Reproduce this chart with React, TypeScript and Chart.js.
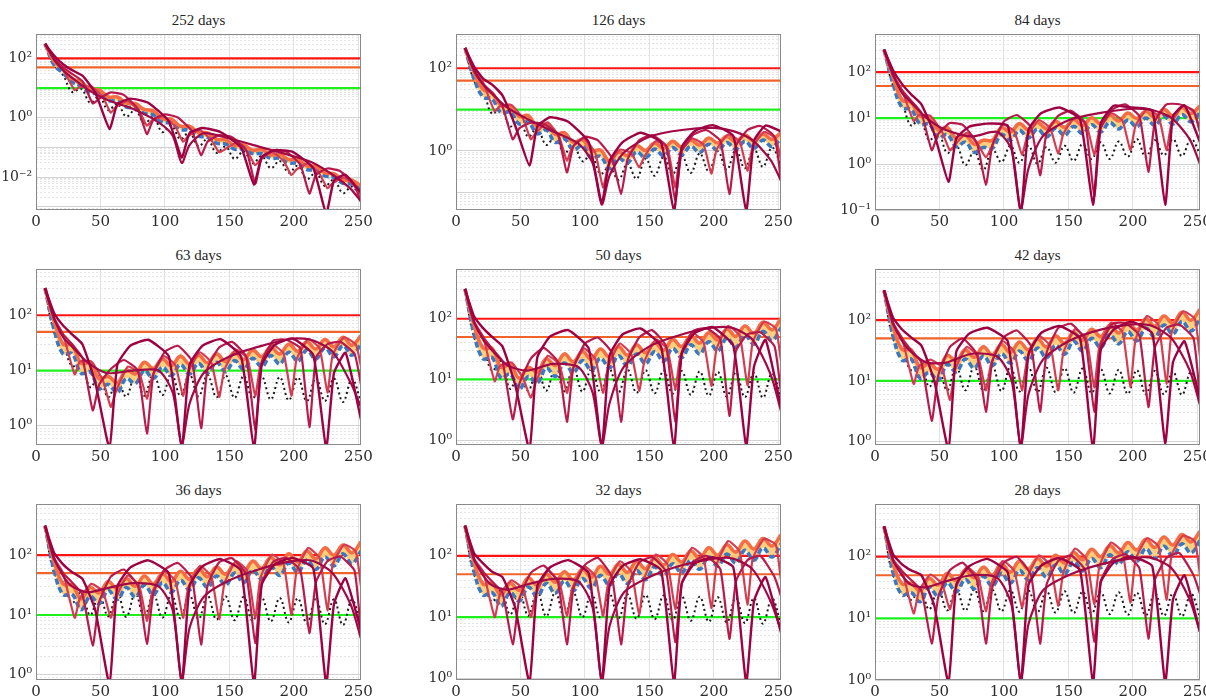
import React, { useEffect, useRef } from "react";
import { Chart, registerables } from "chart.js";

Chart.register(...registerables);

// ---------------- labels & axes ----------------
const TITLES = ["252 days", "126 days", "84 days", "63 days", "50 days", "42 days", "36 days", "32 days", "28 days"];
const X_MIN = 0;
const X_MAX = 252;
const X_TICKS = [0, 50, 100, 150, 200, 250];
const Y_MIN = [0.00078, 0.037, 0.1, 0.45, 0.83, 0.88, 0.82, 0.94, 1.0];
const Y_MAX = [640, 660, 665, 675, 650, 685, 705, 690, 705];
const Y_LABEL_STEP = [2, 2, 1, 1, 1, 1, 1, 1, 1];
const THRESHOLDS = [100, 50, 10];

// ---------------- shared day grids ----------------
const XB = [7, 14, 21, 28, 35, 42, 49, 56, 63, 70, 77, 84, 91, 98, 105, 112, 119, 126, 133, 140, 147, 154, 161, 168, 175, 182, 189, 196, 203, 210, 217, 224, 231, 238, 245, 252];
const XC1 = [7, 14, 21, 28, 36, 46, 57, 63, 73, 87, 103, 113, 119, 129, 143, 159, 169, 175, 185, 199, 215, 225, 231, 240, 252];
const XC2 = [7, 14, 21, 28, 36, 44, 49, 58, 68, 79, 86, 91, 100, 110, 121, 128, 133, 142, 152, 163, 170, 175, 184, 194, 205, 212, 217, 226, 236, 247, 252];
const XC3 = [7, 14, 21, 30, 34, 43, 52, 58, 62, 71, 80, 86, 90, 99, 108, 114, 118, 127, 136, 142, 146, 155, 164, 170, 174, 183, 192, 198, 202, 211, 220, 226, 230, 239, 248, 252];
const XC4 = [7, 14, 21, 28, 40, 55, 75, 95, 106, 113, 119, 130, 150, 175, 200, 215, 230, 244, 252];

// ---------------- 252 days ----------------
const P252_UP = [310, 80, 45, 21, 16, 9.1, 8.7, 5, 5, 3.1, 3.0, 1.9, 1.7, 0.93, 0.89, 0.52, 0.52, 0.32, 0.31, 0.19, 0.18, 0.115, 0.12, 0.081, 0.085, 0.056, 0.059, 0.039, 0.04, 0.024, 0.023, 0.014, 0.013, 0.0081, 0.0079, 0.005];
const P252_LO = [310, 60, 32, 16, 11.5, 6.9, 6.3, 3.8, 3.6, 2.3, 2.1, 1.4, 1.26, 0.71, 0.65, 0.4, 0.38, 0.24, 0.22, 0.14, 0.13, 0.087, 0.089, 0.062, 0.062, 0.043, 0.043, 0.03, 0.029, 0.018, 0.017, 0.011, 0.0098, 0.0062, 0.0058, 0.0038];
const P252_DOT = [310, 63, 27, 7.4, 9.5, 3.2, 5.2, 1.8, 3.0, 1.1, 1.8, 0.66, 1.05, 0.33, 0.54, 0.19, 0.32, 0.11, 0.19, 0.066, 0.107, 0.041, 0.074, 0.029, 0.051, 0.02, 0.035, 0.014, 0.024, 0.0085, 0.014, 0.005, 0.0081, 0.0029, 0.0048, 0.0018];
const P252_C1 = [310, 125, 63, 40, 26, 7, 0.42, 2.8, 4.4, 3.2, 0.76, 0.046, 0.3, 0.45, 0.33, 0.1, 0.0056, 0.048, 0.081, 0.071, 0.02, 0.0006, 0.0076, 0.012, 0.003];
const P252_C2 = [310, 100, 50, 30, 17, 3, 4.4, 7.1, 5.9, 1.95, 0.28, 0.87, 1.29, 1.02, 0.35, 0.055, 0.155, 0.26, 0.22, 0.083, 0.006, 0.043, 0.078, 0.072, 0.026, 0.0028, 0.0117, 0.0195, 0.0158, 0.0052, 0.0015];
const P252_C3 = [310, 95, 40, 8.5, 10.7, 11.2, 4.8, 1.48, 2.3, 3.7, 1.7, 0.54, 0.81, 1.12, 0.5, 0.155, 0.24, 0.38, 0.174, 0.069, 0.083, 0.141, 0.072, 0.025, 0.039, 0.069, 0.035, 0.0117, 0.018, 0.029, 0.0126, 0.0042, 0.0063, 0.0098, 0.0045, 0.0025];
const P252_C4 = [310, 90, 40, 22, 9, 4, 2, 0.7, 0.25, 0.03, 0.12, 0.3, 0.2, 0.1, 0.05, 0.03, 0.012, 0.004, 0.0015];

// ---------------- 126 days ----------------
const P126_UP = [310, 79, 31, 25, 12.6, 12.3, 6.8, 7.1, 3.9, 4.5, 2.5, 2.75, 1.6, 1.86, 1.0, 1.05, 0.56, 0.93, 0.78, 1.35, 1.02, 1.55, 1.15, 1.7, 1.23, 1.82, 1.38, 2.04, 1.55, 2.24, 1.66, 2.4, 1.74, 2.57, 1.9, 2.8];
const P126_LO = [310, 56, 20, 18, 8.3, 8.7, 4.5, 5, 2.6, 3.2, 1.6, 1.95, 1.07, 1.32, 0.66, 0.74, 0.37, 0.66, 0.51, 0.95, 0.68, 1.1, 0.76, 1.2, 0.81, 1.29, 0.91, 1.45, 1.02, 1.58, 1.1, 1.7, 1.15, 1.82, 1.26, 2.0];
const P126_DOT = [310, 50, 28, 7.9, 11, 3.9, 6, 2.2, 3.5, 1.4, 2.2, 0.87, 1.45, 0.56, 0.8, 0.28, 0.4, 0.2, 0.49, 0.21, 0.65, 0.25, 0.72, 0.27, 0.78, 0.29, 0.87, 0.32, 0.98, 0.35, 1.05, 0.38, 1.1, 0.41, 1.2, 0.45];
const P126_C1 = [310, 110, 56, 40, 22, 4, 0.44, 3.9, 6.5, 5.1, 1.6, 0.054, 0.56, 1.6, 2.75, 1.6, 0.035, 1.23, 3.0, 4.2, 2.3, 0.035, 1.74, 4.1, 3.0];
const P126_C2 = [310, 85, 42, 26, 12, 1.9, 3.5, 4.8, 4.5, 2.5, 0.3, 1.3, 2.2, 1.8, 0.66, 0.09, 0.62, 1.8, 2.4, 1.3, 0.063, 0.98, 2.45, 3.2, 1.74, 0.09, 1.3, 3.2, 4.0, 2.2, 0.19];
const P126_C3 = [310, 90, 45, 9, 12, 13, 6, 1.9, 2.75, 4.9, 2.2, 0.58, 1.2, 2.0, 0.89, 0.13, 0.42, 1.07, 0.87, 0.4, 0.72, 1.74, 1.17, 0.13, 0.87, 2.0, 1.4, 0.28, 1.07, 2.5, 1.66, 0.33, 1.23, 2.9, 1.95, 0.6];
const P126_C4 = [310, 90, 40, 24, 11, 6, 3, 1.5, 0.5, 0.05, 0.25, 0.9, 2.2, 3.2, 3.6, 3.0, 1.8, 0.6, 0.19];

// ---------------- 84 days ----------------
const P84_UP = [310, 79, 25, 22, 11, 10.5, 5.6, 6.2, 3.6, 4.3, 2.7, 3.3, 3.3, 6.2, 5.0, 7.6, 5.6, 8.1, 5.9, 8.5, 6.3, 9.3, 6.9, 10.2, 7.6, 11.5, 8.7, 12.9, 9.8, 14.1, 10.5, 15.5, 11.2, 17, 12.6, 18.6];
const P84_LO = [310, 56, 17, 15.5, 7.4, 7.4, 3.7, 4.4, 2.4, 3.0, 1.8, 2.3, 2.2, 4.4, 3.3, 5.4, 3.7, 5.8, 3.9, 6.0, 4.2, 6.6, 4.6, 7.2, 5.0, 8.1, 5.8, 9.1, 6.5, 10, 6.9, 11, 7.4, 12, 8.3, 13.2];
const P84_DOT = [310, 50, 22, 6.9, 10, 3.3, 5.0, 1.74, 2.6, 0.95, 1.9, 0.74, 2.1, 1.1, 2.5, 1.07, 2.5, 1.02, 2.35, 1.07, 2.5, 1.17, 2.75, 1.29, 3.0, 1.29, 3.1, 1.45, 3.5, 1.41, 3.3, 1.55, 3.5, 1.5, 3.5, 1.66];
const P84_C1 = [310, 110, 55, 33, 20, 4.5, 0.41, 3.6, 6.5, 7.6, 6.8, 0.085, 5.6, 12.9, 17, 9.5, 0.13, 7.6, 18.6, 17, 14.5, 0.13, 11, 19, 3];
const P84_C2 = [310, 85, 40, 24, 13, 2.0, 4.5, 7.8, 7.1, 2.9, 0.35, 2.6, 8.5, 11.7, 6.3, 0.57, 4.7, 11.2, 14.5, 7.8, 0.2, 6.0, 15.5, 20, 11, 0.68, 8.3, 20, 20, 14.5, 5];
const P84_C3 = [310, 90, 40, 8.6, 11.7, 11.2, 5.0, 2.0, 2.6, 4.8, 2.6, 1.4, 2.2, 7.1, 5.2, 1.6, 4.0, 9.1, 5.9, 1.7, 4.5, 10.5, 7.1, 1.6, 5.4, 12.9, 8.7, 2.0, 6.8, 15.8, 10.7, 2.0, 7.9, 19, 12.9, 5];
const P84_C4 = [310, 90, 35, 22, 10, 5.5, 4, 5, 2, 0.1, 0.8, 4, 9, 13, 16, 15, 10, 3.5, 1.0];

// ---------------- 63 days ----------------
const P63_UP = [310, 79, 30, 29, 13.5, 13.5, 7.1, 7.9, 6.0, 10.2, 8.7, 14.1, 11, 16.2, 12.3, 18.2, 13.2, 19, 13.8, 20, 14.5, 21.4, 15.8, 23.4, 17.8, 26.3, 20, 30, 22.4, 33, 24.5, 36.3, 26.9, 40, 28.8, 42.7];
const P63_LO = [310, 56, 20, 20.4, 8.9, 9.5, 4.7, 5.6, 4.0, 7.2, 5.8, 10, 7.2, 11.5, 8.1, 12.9, 8.7, 13.5, 9.1, 14.1, 9.5, 15.1, 10.5, 16.6, 11.7, 18.6, 13.2, 21.4, 14.8, 23.4, 16.2, 25.7, 17.8, 28.2, 19, 30.2];
const P63_DOT = [310, 50, 30, 12, 14, 5, 8, 3.3, 6.5, 3.4, 8.5, 3.5, 9, 3.6, 8.8, 3.5, 8.5, 3.4, 8.3, 3.3, 8.2, 3.2, 8, 3.1, 7.8, 3.0, 7.6, 2.9, 7.5, 2.8, 7.3, 2.8, 7.2, 2.7, 7.0, 2.7];
const P63_C1 = [310, 110, 65, 45, 30, 6, 0.4, 12.6, 28, 36, 18, 0.4, 12.6, 28, 37, 18, 0.4, 12.6, 29, 38, 19, 0.4, 8.9, 21, 1.3];
const P63_C2 = [310, 85, 45, 30, 17, 1.9, 5.6, 10.7, 15.5, 10, 0.72, 8.7, 22, 28, 14.8, 0.9, 11, 26, 33, 17.8, 0.83, 14.1, 35, 36, 25, 0.95, 17, 30, 33, 20, 5.6];
const P63_C3 = [310, 90, 45, 8.5, 14.5, 14.5, 6.5, 2.2, 4.2, 11.7, 9.1, 3.1, 7.6, 18.2, 12.6, 3.5, 9.3, 21.4, 13.8, 3.3, 10.2, 24, 16.2, 3.5, 12.3, 29.5, 20.4, 3.5, 15.8, 37, 25, 4, 19, 40, 29.5, 12];
const P63_C4 = [310, 90, 40, 27, 14, 9, 10, 10, 4, 0.45, 2.5, 9, 18, 28, 38, 35, 22, 6, 2.2];

// ---------------- 50 days ----------------
const P50_UP = [310, 79, 33, 32.4, 15.8, 17.4, 10.5, 15.8, 13.2, 21.9, 17, 26.3, 19.5, 28.8, 21.4, 31.6, 23.4, 34.7, 25.1, 37.2, 27.5, 40.7, 30.2, 45.7, 34.7, 52.5, 39.8, 58.9, 44.7, 67.6, 51.3, 75.9, 57.5, 87.1, 66.1, 100];
const P50_LO = [310, 56, 21.9, 22.9, 10.5, 12.3, 6.9, 11.2, 8.7, 15.5, 11.2, 18.6, 12.9, 20.4, 14.1, 22.4, 15.5, 24.5, 16.6, 26.3, 18.2, 28.8, 20, 32.4, 22.9, 37.2, 26.3, 41.7, 29.5, 47.9, 33.9, 53.7, 38, 61.7, 43.7, 70.8];
const P50_DOT = [310, 50, 33, 14, 20, 7, 13, 6.5, 15, 6.5, 15.5, 6.4, 15.5, 6.3, 15, 6.2, 14.8, 6.1, 14.5, 6.0, 14.2, 5.9, 14, 5.8, 13.8, 5.6, 13.5, 5.4, 13.3, 5.2, 13, 5.1, 12.8, 5.0, 12.5, 5.0];
const P50_C1 = [310, 110, 70, 50, 35, 8, 0.7, 23, 51, 65, 32, 0.75, 24.5, 55, 69, 35, 0.75, 26, 58, 73, 36, 0.8, 16, 45, 3.5];
const P50_C2 = [310, 85, 50, 32, 20, 2.2, 8.3, 22, 33, 19.5, 2.0, 15.5, 39, 49, 27, 2.0, 20, 49, 65, 35, 2.0, 27.5, 63, 70, 46, 2.5, 29, 55, 60, 35, 6];
const P50_C3 = [310, 90, 50, 9.3, 16.6, 19, 10.5, 5, 9.1, 24.5, 17.8, 6, 13.8, 32.4, 21.9, 6, 16.6, 38.9, 25.7, 6.5, 19.5, 45.7, 30.9, 7, 24, 58.9, 40.7, 7.8, 31.6, 75.9, 52.5, 8, 40.7, 90, 69, 20];
const P50_C4 = [310, 90, 45, 30, 17, 14, 18, 16, 6, 0.8, 4, 16, 35, 55, 72, 70, 45, 12, 3.0];

// ---------------- 42 days ----------------
const P42_UP = [310, 79, 33, 32.4, 16.6, 19.5, 15.5, 26.3, 21.4, 32.4, 24.5, 36.3, 26.9, 39.8, 29.5, 43.7, 32.4, 49, 36.3, 55, 41.7, 63.1, 46.8, 70.8, 53.7, 81.3, 61.7, 91.2, 69.2, 105, 79.4, 117, 89.1, 135, 100, 151];
const P42_LO = [310, 56, 21.9, 22.9, 11, 13.8, 10.2, 18.6, 14.1, 22.9, 16.2, 25.7, 17.8, 28.2, 19.5, 30.9, 21.4, 34.7, 24, 38.9, 27.5, 44.7, 30.9, 50.1, 35.5, 57.5, 40.7, 64.6, 45.7, 74.1, 52.5, 83.2, 58.9, 95.5, 66.1, 107];
const P42_DOT = [310, 50, 33, 15, 22, 8, 16, 7, 17, 7, 17.5, 6.9, 17.5, 6.8, 17, 6.7, 16.8, 6.6, 16.5, 6.5, 16.2, 6.4, 16, 6.3, 15.6, 6.2, 15.3, 6.1, 15, 6.0, 14.6, 6.0, 14.3, 5.9, 14, 5.9];
const P42_C1 = [310, 110, 70, 52, 38, 10, 0.75, 30, 60, 75, 45, 0.75, 28, 62, 80, 50, 0.75, 32, 70, 94, 60, 0.95, 20, 45, 5];
const P42_C2 = [310, 85, 50, 32, 20, 2.2, 12.3, 36, 50, 27.5, 3.1, 21.4, 52.5, 67.6, 37.2, 3.1, 28.8, 74, 87, 47.9, 3.1, 38, 87, 90, 56, 3.7, 35.5, 75, 85, 50, 5];
const P42_C3 = [310, 90, 50, 8.9, 17.4, 22.4, 16.6, 4.8, 14.8, 36.3, 25.1, 7, 19, 44.7, 30.2, 7, 22.9, 55, 37.2, 7, 28.8, 70.8, 49, 7.8, 37.2, 91.2, 63.1, 8, 47.9, 117, 81.3, 9, 63.1, 140, 105, 25];
const P42_C4 = [310, 90, 45, 30, 20, 20, 28, 25, 10, 0.85, 6, 22, 45, 70, 85, 80, 50, 15, 4];

// ---------------- 36 days ----------------
const P36_UP = [310, 79, 33, 31.6, 18.6, 28.8, 23.4, 36.3, 27.5, 40.7, 30.2, 44.7, 33.1, 49, 36.3, 53.7, 39.8, 58.9, 43.7, 63.1, 47.9, 70.8, 52.5, 79.4, 60.3, 91.2, 69.2, 105, 77.6, 117, 87.1, 132, 100, 148, 110, 166];
const P36_LO = [310, 56, 21.9, 22.4, 12.3, 20.4, 15.5, 25.7, 18.2, 28.8, 20, 31.6, 21.9, 34.7, 24, 38, 26.3, 41.7, 28.8, 44.7, 31.6, 50.1, 34.7, 56.2, 39.8, 64.6, 45.7, 74.1, 51.3, 83.2, 57.5, 93.3, 66.1, 105, 72.4, 117];
const P36_DOT = [310, 50, 35, 16, 24, 10, 22, 9.5, 23, 9.3, 23, 9.2, 22.5, 9, 22, 8.8, 21.5, 8.6, 21, 8.4, 20.5, 8.2, 20, 8, 19.6, 7.8, 19.2, 7.5, 19, 7.2, 18.6, 7, 18.3, 6.8, 18, 6.6];
const P36_C1 = [310, 110, 70, 52, 40, 12, 0.7, 30, 62, 82, 50, 0.7, 30, 65, 86, 55, 0.7, 32, 70, 90, 60, 0.7, 15, 41, 5.5];
const P36_C2 = [310, 85, 50, 35, 22, 3.1, 16.6, 43.7, 57.5, 30.9, 3.3, 23.4, 57.5, 74.1, 40.7, 3.2, 30.9, 75.9, 89, 47.9, 3.4, 33.9, 77.6, 90, 55, 5, 35, 80, 95, 55, 5];
const P36_C3 = [310, 90, 50, 9, 19, 33.1, 24.5, 9, 19, 45.7, 30.9, 8, 23.4, 55, 37.2, 9, 28.2, 66.1, 43.7, 8.5, 33.1, 79.4, 53.7, 9, 41.7, 102, 70.8, 10, 53.7, 132, 89.1, 12, 69.2, 150, 115, 30];
const P36_C4 = [310, 90, 45, 30, 24, 28, 34, 30, 12, 0.8, 6, 20, 38, 60, 80, 80, 50, 15, 4];

// ---------------- 32 days ----------------
const P32_UP = [310, 79, 34.7, 35.5, 22.9, 35.5, 27.5, 43.7, 33.1, 50.1, 37.2, 55, 40.7, 60.3, 44.7, 67.6, 50.1, 72.4, 53.7, 81.3, 61.7, 93.3, 70.8, 105, 79.4, 120, 91.2, 135, 102, 151, 115, 174, 129, 191, 145, 219];
const P32_LO = [310, 56, 22.9, 25.1, 15.1, 25.1, 18.2, 30.9, 21.9, 35.5, 24.5, 38.9, 26.9, 42.7, 29.5, 47.9, 33.1, 51.3, 35.5, 57.5, 40.7, 66.1, 46.8, 74.1, 52.5, 85.1, 60.3, 95.5, 67.6, 107, 75.9, 123, 85.1, 135, 95.5, 155];
const P32_DOT = [310, 50, 36, 18, 27, 11, 26, 10.5, 26, 10.3, 25.5, 10.1, 25, 10, 24.5, 9.8, 24, 9.6, 23.5, 9.4, 23, 9.2, 22.5, 9, 22, 8.7, 21.5, 8.4, 21, 8.2, 20.7, 8, 20.4, 7.8, 20, 7.6];
const P32_C1 = [310, 110, 75, 55, 45, 14, 0.85, 32, 65, 85, 52, 0.85, 32, 68, 88, 58, 0.85, 35, 75, 95, 65, 0.85, 18, 45, 5.6];
const P32_C2 = [310, 85, 55, 38, 25, 3.6, 19.5, 52.5, 69.2, 37.2, 3.6, 28.8, 70.8, 93.3, 44.7, 3.6, 30.2, 77.6, 95, 55, 3.9, 35, 80, 100, 60, 4.4, 38, 85, 100, 45, 22];
const P32_C3 = [310, 90, 55, 10, 23.4, 39.8, 28.8, 10, 23.4, 56.2, 38, 10.5, 28.8, 67.6, 46.8, 10.5, 35.5, 81.3, 55, 11, 42.7, 105, 72.4, 13.5, 55, 135, 93.3, 14, 70.8, 174, 117, 16, 89.1, 190, 151, 40];
const P32_C4 = [310, 90, 48, 33, 28, 34, 42, 38, 14, 0.9, 7, 25, 45, 70, 90, 90, 60, 18, 6];

// ---------------- 28 days ----------------
const P28_UP = [310, 79, 36.3, 37.2, 28.2, 44.7, 34.7, 53.7, 40.7, 60.3, 45.7, 67.6, 50.1, 75.9, 56.2, 85.1, 63.1, 93.3, 70.8, 105, 79.4, 117, 89.1, 132, 100, 151, 115, 170, 129, 191, 141, 209, 155, 229, 174, 257];
const P28_LO = [310, 56, 24, 26.3, 18.6, 31.6, 22.9, 38, 26.9, 42.7, 30.2, 47.9, 33.1, 53.7, 37.2, 60.3, 41.7, 66.1, 46.8, 74.1, 52.5, 83.2, 58.9, 93.3, 66.1, 107, 75.9, 120, 85.1, 135, 93.3, 148, 102, 162, 115, 182];
const P28_DOT = [310, 50, 38, 20, 30, 14, 30, 13.5, 30, 13.3, 29.5, 13.1, 29, 13, 28.6, 12.8, 28.2, 12.6, 27.8, 12.4, 27.5, 12.2, 27.2, 12, 26.8, 11.7, 26.4, 11.4, 26, 11.2, 25.7, 11, 25.4, 10.8, 25, 10.5];
const P28_C1 = [310, 110, 75, 60, 50, 16, 0.9, 35, 70, 92, 55, 0.9, 35, 72, 95, 60, 0.9, 38, 80, 100, 70, 0.9, 20, 50, 6];
const P28_C2 = [310, 85, 58, 42, 28, 3.9, 22, 60, 80, 42, 3.9, 32, 80, 100, 50, 3.9, 35, 85, 105, 60, 4.2, 40, 90, 110, 65, 4.7, 42, 95, 115, 50, 25];
const P28_C3 = [310, 90, 58, 12, 27.5, 51.3, 36.3, 14, 28.8, 67.6, 46.8, 13, 35.5, 85.1, 58.9, 15, 44.7, 105, 72.4, 16, 55, 135, 91.2, 17, 69.2, 170, 117, 18, 89.1, 200, 145, 20, 107, 220, 178, 50];
const P28_C4 = [310, 90, 50, 35, 32, 40, 50, 45, 16, 0.95, 8, 28, 50, 75, 95, 95, 65, 20, 6];

const PANELS = [
  { up: P252_UP, lo: P252_LO, dot: P252_DOT, c1: P252_C1, c2: P252_C2, c3: P252_C3, c4: P252_C4 },
  { up: P126_UP, lo: P126_LO, dot: P126_DOT, c1: P126_C1, c2: P126_C2, c3: P126_C3, c4: P126_C4 },
  { up: P84_UP, lo: P84_LO, dot: P84_DOT, c1: P84_C1, c2: P84_C2, c3: P84_C3, c4: P84_C4 },
  { up: P63_UP, lo: P63_LO, dot: P63_DOT, c1: P63_C1, c2: P63_C2, c3: P63_C3, c4: P63_C4 },
  { up: P50_UP, lo: P50_LO, dot: P50_DOT, c1: P50_C1, c2: P50_C2, c3: P50_C3, c4: P50_C4 },
  { up: P42_UP, lo: P42_LO, dot: P42_DOT, c1: P42_C1, c2: P42_C2, c3: P42_C3, c4: P42_C4 },
  { up: P36_UP, lo: P36_LO, dot: P36_DOT, c1: P36_C1, c2: P36_C2, c3: P36_C3, c4: P36_C4 },
  { up: P32_UP, lo: P32_LO, dot: P32_DOT, c1: P32_C1, c2: P32_C2, c3: P32_C3, c4: P32_C4 },
  { up: P28_UP, lo: P28_LO, dot: P28_DOT, c1: P28_C1, c2: P28_C2, c3: P28_C3, c4: P28_C4 },
];

// ---------------- layout (pixels) ----------------
const COL_LEFT = [36, 456, 875];
const ROW_TOP = [32, 267, 502];
const PLOT_W = 325;
const PLOT_H = 178;
const YW = 44;
const PT = 10;
const PR = 18;
const XH = 26;

const THRESH_COLORS = ["#ff1414", "#f0642a", "#1ef01e"];
const X_FONT = { family: "'DejaVu Serif', serif", size: 15 };
const Y_FONT = { family: "'DejaVu Serif', serif", size: 14 };

const SUPER: Record<string, string> = { "-": "\u207B", "0": "\u2070", "1": "\u00B9", "2": "\u00B2", "3": "\u00B3", "4": "\u2074", "5": "\u2075", "6": "\u2076", "7": "\u2077", "8": "\u2078", "9": "\u2079" };

function isDecade(v: number) {
  const l = Math.log10(v);
  return Math.abs(l - Math.round(l)) < 1e-6;
}
function isOffStep(v: number) {
  const e = Math.floor(Math.log10(v) + 1e-9);
  const s = v / Math.pow(10, e);
  return Math.abs(s - Math.round(s)) > 0.01;
}
function decadeLabel(v: number) {
  const e = Math.round(Math.log10(v));
  return "10" + String(e).split("").map((c) => SUPER[c] || c).join("");
}

const boxPlugin = {
  id: "box",
  afterDraw(chart: any) {
    const { ctx, chartArea: a } = chart;
    ctx.save();
    ctx.strokeStyle = "#8a8a8a";
    ctx.lineWidth = 1;
    ctx.strokeRect(Math.round(a.left) + 0.5, Math.round(a.top) + 0.5, Math.round(a.right - a.left) - 1, Math.round(a.bottom - a.top) - 1);
    ctx.restore();
  },
};

function series(xs: number[], ys: number[], opts: any) {
  return { data: xs.map((x, i) => ({ x, y: ys[i] })), pointRadius: 0, ...opts };
}

function buildDatasets(p: any) {
  const ds: any[] = [
    series(XC1, p.c1, { borderColor: "#9e0142", borderWidth: 2.4, tension: 0.15 }),
    series(XC4, p.c4, { borderColor: "#a20a45", borderWidth: 2.2, tension: 0.25 }),
    series(XC2, p.c2, { borderColor: "#b81a4b", borderWidth: 2.2, tension: 0.15 }),
    series(XC3, p.c3, { borderColor: "#d43d51", borderWidth: 2.2, tension: 0.15 }),
    series(XB, p.up, { borderColor: "#f46d43", borderWidth: 3.6, tension: 0.4 }),
    series(XB, p.lo, { borderColor: "#3a78c0", borderWidth: 3.6, borderDash: [6, 3], tension: 0.4, fill: "-1", backgroundColor: "rgba(253,205,120,0.95)" }),
    series(XB, p.dot, { borderColor: "#1a1a1a", borderWidth: 2, borderDash: [2, 3], tension: 0.4 }),
  ];
  THRESHOLDS.forEach((t, i) => {
    ds.push({ data: [{ x: X_MIN, y: t }, { x: X_MAX, y: t }], borderColor: THRESH_COLORS[i], borderWidth: 2.2, pointRadius: 0 });
  });
  return ds;
}

function Panel({ idx }: { idx: number }) {
  const ref = useRef<HTMLCanvasElement>(null);
  const col = idx % 3;
  const row = Math.floor(idx / 3);
  const left = COL_LEFT[col] - YW;
  const top = ROW_TOP[row] - PT;
  const width = PLOT_W + YW + PR;
  const height = PLOT_H + PT + XH;

  useEffect(() => {
    const canvas = ref.current;
    if (!canvas) return;
    const step = Y_LABEL_STEP[idx];
    const chart = new Chart(canvas, {
      type: "line",
      data: { datasets: buildDatasets(PANELS[idx]) },
      options: {
        animation: false,
        responsive: false,
        maintainAspectRatio: false,
        devicePixelRatio: 1,
        events: [],
        layout: { padding: { left: 0, top: PT, right: PR, bottom: 0 } },
        plugins: { legend: { display: false }, tooltip: { enabled: false }, title: { display: false } },
        scales: {
          x: {
            type: "linear",
            min: X_MIN,
            max: X_MAX,
            afterFit: (s: any) => { s.height = XH; },
            afterBuildTicks: (s: any) => { s.ticks = X_TICKS.map((v) => ({ value: v })); },
            ticks: { autoSkip: false, maxRotation: 0, font: X_FONT, color: "#2b2b2b", padding: 3 },
            grid: { color: "#e2e2e2", drawTicks: false },
            border: { display: false },
          },
          y: {
            type: "logarithmic",
            min: Y_MIN[idx],
            max: Y_MAX[idx],
            afterFit: (s: any) => { s.width = YW; },
            ticks: {
              autoSkip: false,
              font: Y_FONT,
              color: "#2b2b2b",
              padding: 4,
              callback: (v: any) => {
                const n = Number(v);
                if (isOffStep(n)) return null;
                if (!isDecade(n)) return "";
                const e = Math.round(Math.log10(n));
                return e % step === 0 ? decadeLabel(n) : "";
              },
            },
            grid: {
              drawTicks: false,
              color: (ctx: any) => {
                const t = ctx.tick;
                if (!t) return "#e5e5e5";
                if (isOffStep(t.value)) return "rgba(0,0,0,0)";
                return isDecade(t.value) ? "#d2d2d2" : "#e4e4e4";
              },
            },
            border: {
              display: false,
              dash: (ctx: any) => (ctx.tick && !isDecade(ctx.tick.value) ? [2, 2] : []),
            },
          },
        },
      } as any,
      plugins: [boxPlugin],
    });
    return () => chart.destroy();
  }, [idx]);

  return (
    <>
      <div
        style={{
          position: "absolute",
          left: COL_LEFT[col],
          top: ROW_TOP[row] - 19,
          width: PLOT_W,
          textAlign: "center",
          fontFamily: "'Liberation Serif', serif",
          fontSize: 15,
          lineHeight: "15px",
          color: "#262626",
          whiteSpace: "nowrap",
        }}
      >
        {TITLES[idx]}
      </div>
      <canvas ref={ref} width={width} height={height} style={{ position: "absolute", left, top }} />
    </>
  );
}

export default function App() {
  return (
    <div style={{ position: "fixed", left: 0, top: 0, width: 1206, height: 698, overflow: "hidden", background: "#ffffff" }}>
      {PANELS.map((_, i) => (
        <Panel key={i} idx={i} />
      ))}
    </div>
  );
}
